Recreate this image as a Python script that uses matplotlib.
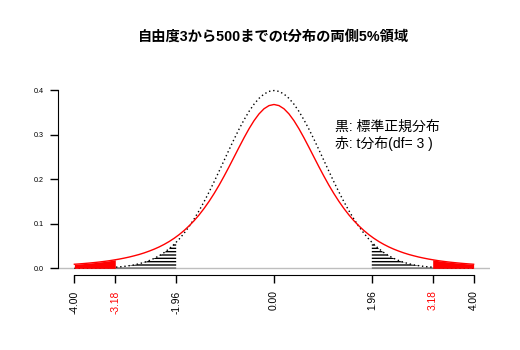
import matplotlib
matplotlib.use("Agg")
import matplotlib.pyplot as plt

plt.rcParams['font.family'] = ['Liberation Sans', 'Noto Sans CJK JP', 'DejaVu Sans']
plt.rcParams['hatch.linewidth'] = 1.0
plt.rcParams['hatch.color'] = 'black'

# density values sampled every 0.1 from 0 to 4 (right half, mirrored below)
x_half = [0.0, 0.1, 0.2, 0.3, 0.4, 0.5, 0.6, 0.7, 0.8, 0.9, 1.0,
          1.1, 1.2, 1.3, 1.4, 1.5, 1.6, 1.7, 1.8, 1.9, 2.0,
          2.1, 2.2, 2.3, 2.4, 2.5, 2.6, 2.7, 2.8, 2.9, 3.0,
          3.1, 3.2, 3.3, 3.4, 3.5, 3.6, 3.7, 3.8, 3.9, 4.0]
normal_half = [0.3989, 0.3970, 0.3910, 0.3814, 0.3683, 0.3521, 0.3332,
               0.3123, 0.2897, 0.2661, 0.2420, 0.2179, 0.1942, 0.1714,
               0.1497, 0.1295, 0.1109, 0.0940, 0.0790, 0.0656, 0.0540,
               0.0440, 0.0355, 0.0283, 0.0224, 0.0175, 0.0136, 0.0104,
               0.0079, 0.0060, 0.0044, 0.0033, 0.0024, 0.0017, 0.0012,
               0.0009, 0.0006, 0.0004, 0.0003, 0.0002, 0.0001]
t3_half = [0.3676, 0.3651, 0.3580, 0.3465, 0.3313, 0.3132, 0.2930,
           0.2716, 0.2497, 0.2279, 0.2068, 0.1866, 0.1678, 0.1504,
           0.1345, 0.1200, 0.1070, 0.0954, 0.0850, 0.0757, 0.0675,
           0.0602, 0.0538, 0.0481, 0.0431, 0.0387, 0.0347, 0.0312,
           0.0282, 0.0254, 0.0230, 0.0208, 0.0189, 0.0171, 0.0156,
           0.0142, 0.0130, 0.0119, 0.0109, 0.0100, 0.0092]

# two-sided 5% critical values and densities there
z_crit = 1.96
z_crit_density = 0.0584
t_crit = 3.18
t_crit_density = 0.0192
df = 3

tick_values = [-4.00, -t_crit, -z_crit, 0.00, z_crit, t_crit, 4.00]
tick_labels = ['-4.00', '-3.18', '-1.96', '0.00', '1.96', '3.18', '4.00']
tick_colors = ['black', 'red', 'black', 'black', 'black', 'red', 'black']

title = '自由度3から500までのt分布の両側5%領域'
note = '黒: 標準正規分布\n赤: t分布(df= %d )' % df

xs = [-v for v in x_half[:0:-1]] + x_half
normal = normal_half[:0:-1] + normal_half
t3 = t3_half[:0:-1] + t3_half


def tail(xv, yv, cut, cut_y, side):
    """Region of a curve beyond +/-cut, with the cut point included."""
    if side > 0:
        px = [cut] + [a for a in xv if a > cut]
        py = [cut_y] + [b for a, b in zip(xv, yv) if a > cut]
    else:
        px = [a for a in xv if a < -cut] + [-cut]
        py = [b for a, b in zip(xv, yv) if a < -cut] + [cut_y]
    return px, py


fig = plt.figure(figsize=(5.2, 3.5), dpi=100)
ax = fig.add_axes([0.1123, 0.2129, 0.8292, 0.5502])
ax.set_xlim(-4.32, 4.32)
ax.set_ylim(-0.016, 0.416)

ax.axhline(0, color='#bebebe', lw=1.0, zorder=1)

# hatched tails of the standard normal
for side in (-1, 1):
    px, py = tail(xs, normal, z_crit, z_crit_density, side)
    ax.fill_between(px, 0, py, facecolor='none', edgecolor='black',
                    hatch='-----', linewidth=0, zorder=2)

ax.plot(xs, normal, color='black', lw=1.0, linestyle=(0, (1, 2)), zorder=3)
ax.plot(xs, t3, color='red', lw=1.0, zorder=3)

# filled tails of the t distribution
for side in (-1, 1):
    px, py = tail(xs, t3, t_crit, t_crit_density, side)
    ax.fill_between(px, 0, py, color='red', linewidth=0, zorder=4)

ax.text(1.22, 0.299, note, fontsize=10, ha='left', va='center',
        linespacing=1.15, zorder=5)

for s in ('top', 'right'):
    ax.spines[s].set_visible(False)
ax.spines['left'].set_bounds(0, 0.4)
ax.spines['bottom'].set_bounds(-4, 4)
ax.spines['left'].set_position(('data', -4.32))
ax.spines['bottom'].set_position(('data', -0.016))

ax.set_yticks([0.0, 0.1, 0.2, 0.3, 0.4])
ax.set_yticklabels(['0.0', '0.1', '0.2', '0.3', '0.4'], fontsize=5.2)
ax.set_xticks(tick_values)
ax.set_xticklabels(tick_labels, rotation=90, fontsize=7.4)
for lbl, c in zip(ax.get_xticklabels(), tick_colors):
    lbl.set_color(c)
ax.tick_params(axis='y', length=5.5, width=1, pad=5)
ax.tick_params(axis='x', length=5.8, width=1, pad=5)

fig.suptitle(title, fontsize=10.3, fontweight='bold', x=0.526, y=0.915)

fig.savefig('out.png', dpi=100)
